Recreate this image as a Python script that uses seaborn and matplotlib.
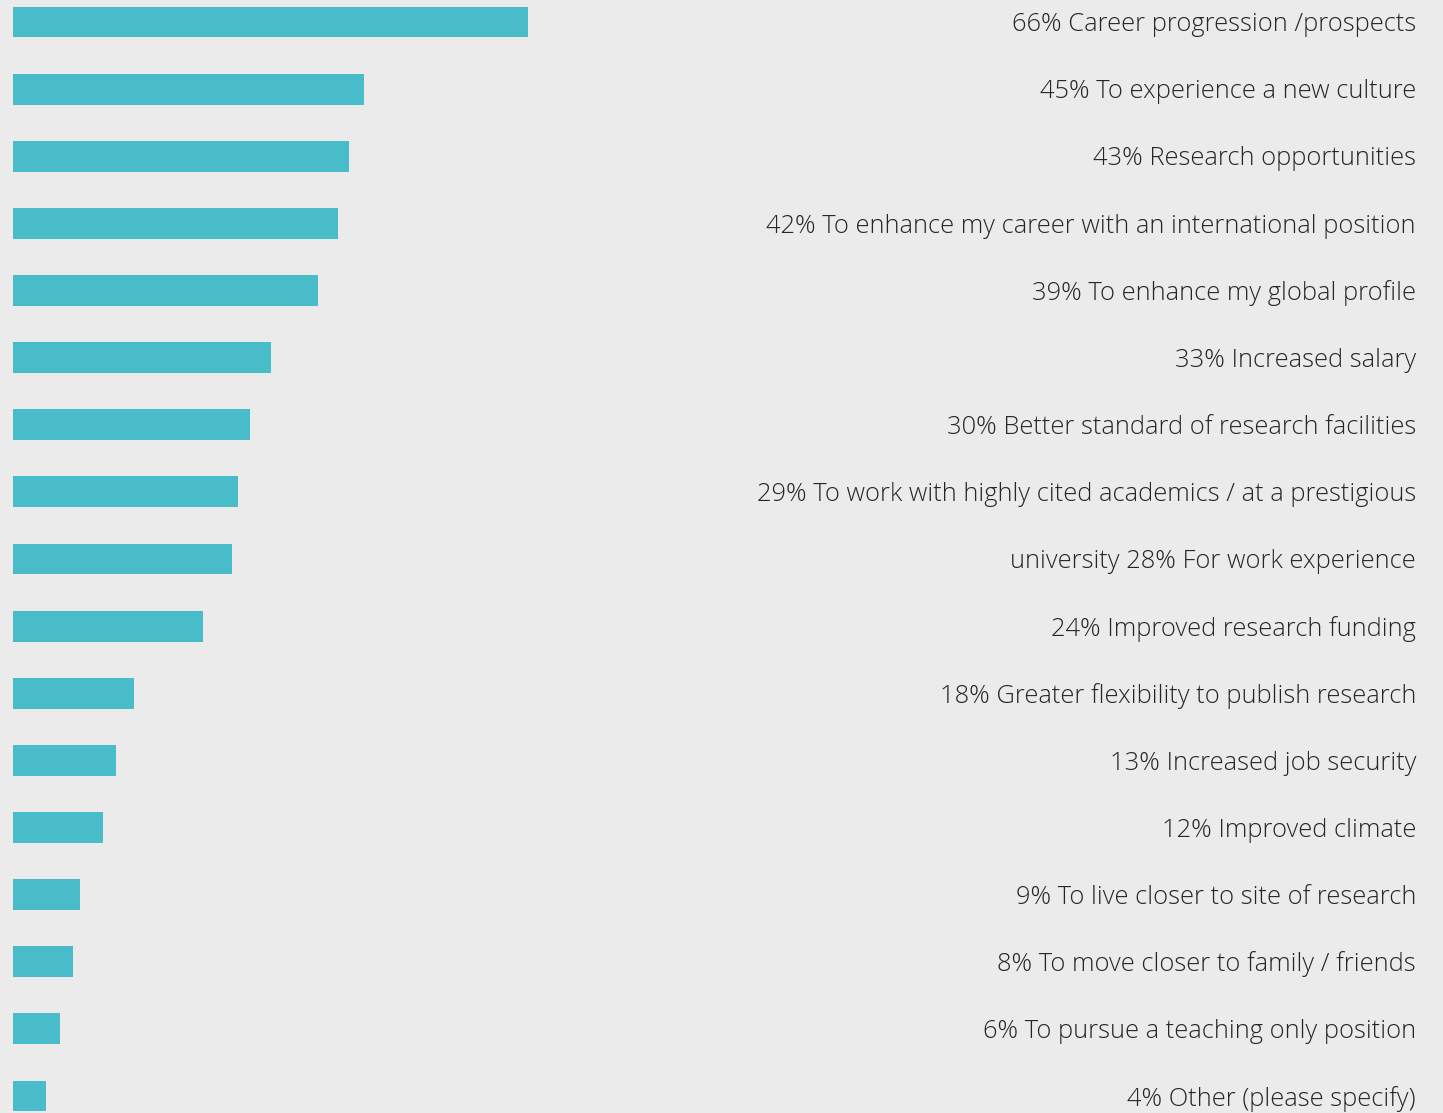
import matplotlib
matplotlib.use("Agg")
import matplotlib.pyplot as plt
import seaborn as sns
import pandas as pd

labels = [
    "66% Career progression /prospects",
    "45% To experience a new culture",
    "43% Research opportunities",
    "42% To enhance my career with an international position",
    "39% To enhance my global profile",
    "33% Increased salary",
    "30% Better standard of research facilities",
    "29% To work with highly cited academics / at a prestigious",
    "university 28% For work experience",
    "24% Improved research funding",
    "18% Greater flexibility to publish research",
    "13% Increased job security",
    "12% Improved climate",
    "9% To live closer to site of research",
    "8% To move closer to family / friends",
    "6% To pursue a teaching only position",
    "4% Other (please specify)",
]
# bar lengths as drawn in the picture (percent)
values = [66, 45, 43, 41.6, 39, 33, 30.3, 28.8, 28, 24.3, 15.5, 13.2, 11.5, 8.6, 7.7, 6, 4.2]

sns.set_theme(style="white")
plt.rcParams["font.family"] = ["Open Sans", "DejaVu Sans"]

BG = "#ebebeb"
BAR = "#48bdc9"

W, H = 1443, 1113
fig = plt.figure(figsize=(W / 100, H / 100), dpi=100, facecolor=BG)
ax = fig.add_axes([0, 0, 1, 1])
ax.set_facecolor(BG)

df = pd.DataFrame({"label": labels, "value": values})
sns.barplot(data=df, x="value", y="label", orient="h", color=BAR,
            width=0.46, saturation=1, linewidth=0, edgecolor="none", ax=ax)

px_per_unit = 7.81
ax.set_xlim(-13 / px_per_unit, (W - 13) / px_per_unit)
spacing = (1096 - 22) / 16
ax.set_ylim(16 + (H - 1096) / spacing, -22 / spacing)

for i, lab in enumerate(labels):
    ax.text(1416 / W, i + 0.04, lab, transform=ax.get_yaxis_transform(),
            ha="right", va="center", fontsize=18.4, color="#262626",
            fontweight="light")

ax.set_axis_off()
fig.savefig("out.png", dpi=100, facecolor=BG)
